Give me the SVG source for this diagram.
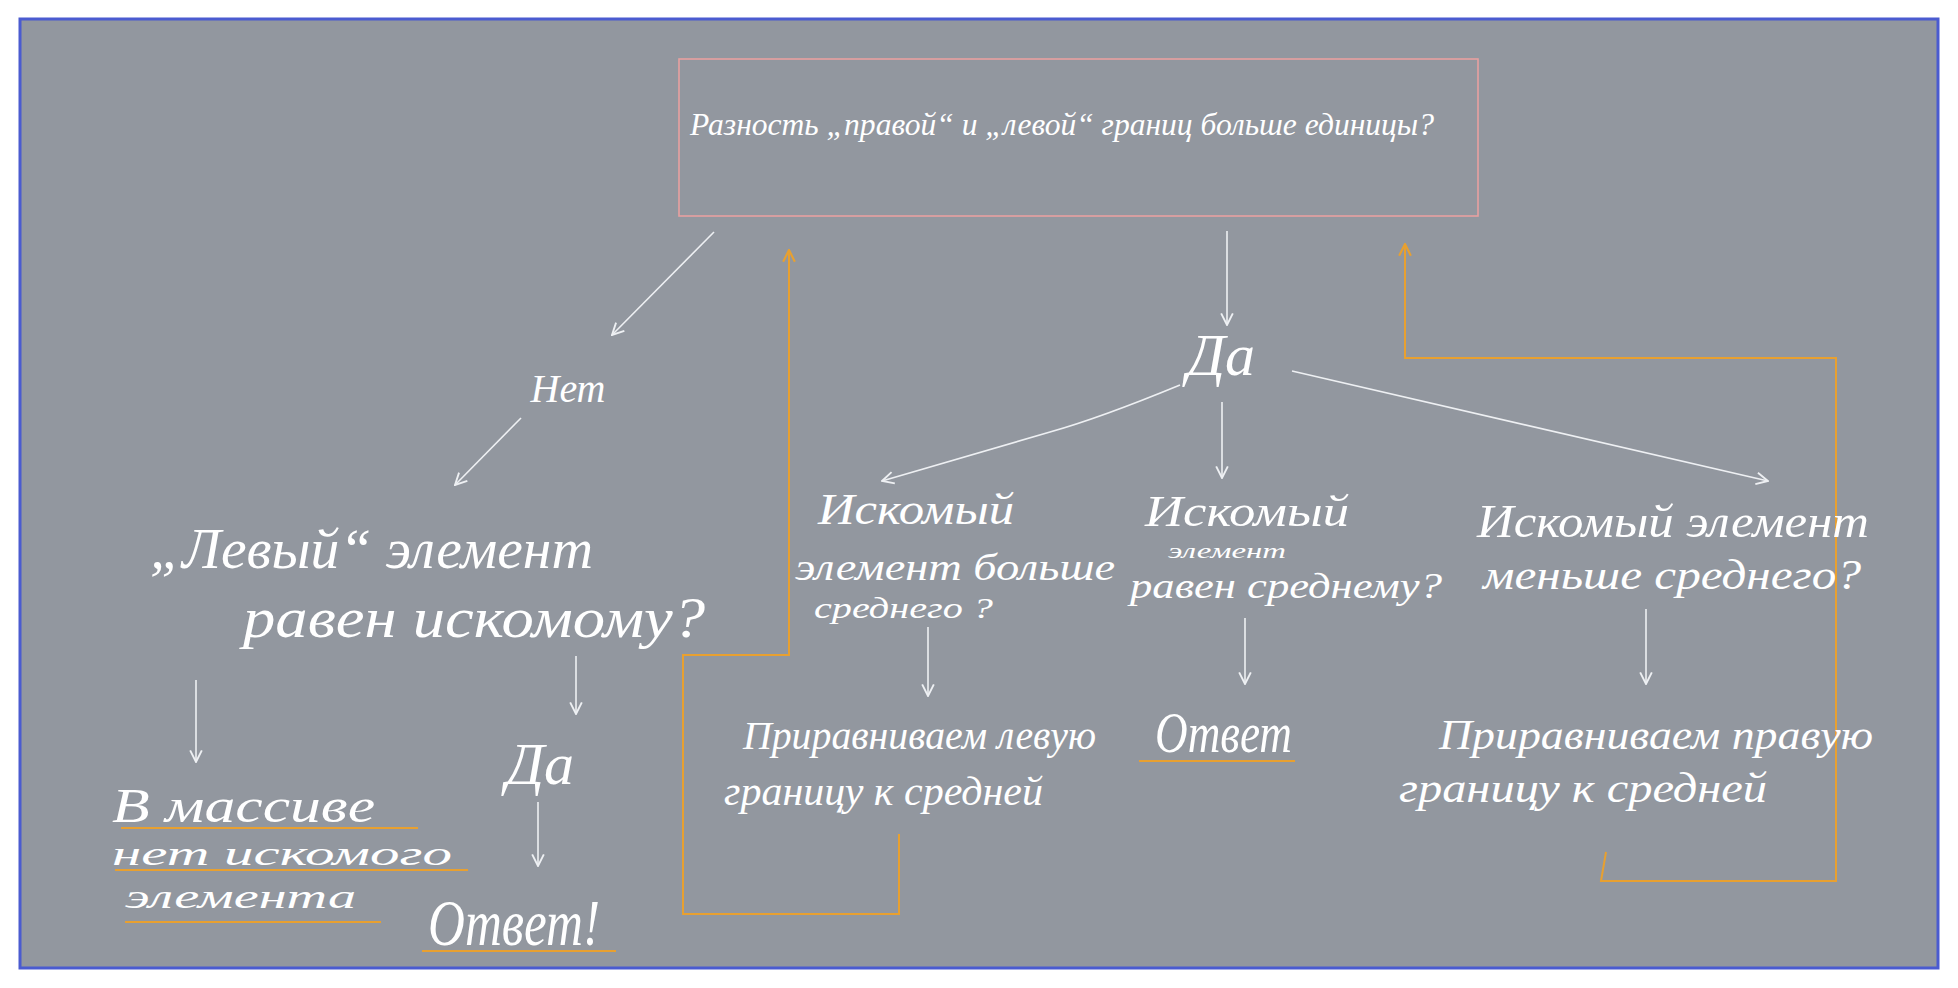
<svg xmlns="http://www.w3.org/2000/svg" width="1958" height="988" viewBox="0 0 1958 988">
<defs>
<style>
.t{font-family:"Liberation Serif","DejaVu Serif",serif;font-style:italic;fill:#ffffff;}
.c{fill:none;stroke:#eef0f3;stroke-width:1.6;}
.o{fill:none;stroke:#e8a030;stroke-width:2;}
.u{stroke:#e8a030;stroke-width:2.2;}
</style>
<marker id="aw" viewBox="0 0 12 12" refX="11" refY="6" markerWidth="14" markerHeight="14" markerUnits="userSpaceOnUse" orient="auto">
<path d="M1,1 L11,6 L1,11" fill="none" stroke="#eef0f3" stroke-width="1.6"/>
</marker>
<marker id="ao" viewBox="0 0 12 12" refX="11" refY="6" markerWidth="14" markerHeight="14" markerUnits="userSpaceOnUse" orient="auto">
<path d="M1,1 L11,6 L1,11" fill="none" stroke="#e8a030" stroke-width="1.8"/>
</marker>
</defs>
<rect x="0" y="0" width="1958" height="988" fill="#ffffff"/>
<rect id="frame" x="20" y="19" width="1918" height="949" fill="#92979f" stroke="#4a5bd0" stroke-width="3"/>

<g id="connectors">
<path class="c" d="M714,232 L612,335" marker-end="url(#aw)" stroke-width="2"/>
<path class="c" d="M521,418 L455,485" marker-end="url(#aw)" stroke-width="2.2"/>
<path class="c" d="M196,680 L196,762" marker-end="url(#aw)" stroke-width="2"/>
<path class="c" d="M576,656 L576,714" marker-end="url(#aw)"/>
<path class="c" d="M538,802 L538,866" marker-end="url(#aw)"/>
<path class="c" d="M1227,231 L1227,325" marker-end="url(#aw)"/>
<path class="c" d="M1180,385 Q1100,418 1050,432 L882,481" marker-end="url(#aw)"/>
<path class="c" d="M1222,402 L1222,478" marker-end="url(#aw)"/>
<path class="c" d="M1292,371 L1768,481" marker-end="url(#aw)"/>
<path class="c" d="M928,627 L928,696" marker-end="url(#aw)"/>
<path class="c" d="M1245,618 L1245,684" marker-end="url(#aw)"/>
<path class="c" d="M1646,609 L1646,684" marker-end="url(#aw)"/>
<path class="o" d="M899,834 L899,914 L683,914 L683,655 L789,655 L789,250" marker-end="url(#ao)"/>
<path class="o" d="M1606,852 L1601,881 L1836,881 L1836,358 L1405,358 L1405,244" marker-end="url(#ao)"/>
</g>

<g id="n-question">
<rect x="679" y="59" width="799" height="157" fill="none" stroke="#e8a0a0" stroke-width="1.6"/>
<text class="t" x="690" y="135" font-size="32" textLength="744" lengthAdjust="spacingAndGlyphs">Разность „правой“ и „левой“ границ больше единицы?</text>
</g>

<g id="n-net">
<text class="t" x="568" y="402" font-size="40" text-anchor="middle">Нет</text>
</g>

<g id="n-left-eq">
<text class="t" x="150" y="568" font-size="56" textLength="443" lengthAdjust="spacingAndGlyphs">„Левый“ элемент</text>
<text class="t" x="243" y="637" font-size="56" textLength="462" lengthAdjust="spacingAndGlyphs">равен искомому?</text>
</g>

<g id="n-no-elem">
<text class="t" x="112" y="822" font-size="48" textLength="263" lengthAdjust="spacingAndGlyphs">В массиве</text>
<line class="u" x1="121" y1="828" x2="418" y2="828"/>
<text class="t" x="112" y="865" font-size="34" textLength="340" lengthAdjust="spacingAndGlyphs">нет искомого</text>
<line class="u" x1="115" y1="870" x2="468" y2="870"/>
<text class="t" x="125" y="908" font-size="34" textLength="231" lengthAdjust="spacingAndGlyphs">элемента</text>
<line class="u" x1="125" y1="922" x2="381" y2="922"/>
</g>

<g id="n-da-left">
<text class="t" x="540" y="784" font-size="60" text-anchor="middle">Да</text>
</g>

<g id="n-answer-left">
<text class="t" x="428" y="945" font-size="66" textLength="172" lengthAdjust="spacingAndGlyphs">Ответ!</text>
<line class="u" x1="422" y1="951" x2="616" y2="951"/>
</g>

<g id="n-da-right">
<text class="t" x="1221" y="375" font-size="60" text-anchor="middle">Да</text>
</g>

<g id="n-greater">
<text class="t" x="818" y="524" font-size="44" textLength="196" lengthAdjust="spacingAndGlyphs">Искомый</text>
<text class="t" x="795" y="580" font-size="38" textLength="320" lengthAdjust="spacingAndGlyphs">элемент больше</text>
<text class="t" x="814" y="618" font-size="30" textLength="179" lengthAdjust="spacingAndGlyphs">среднего ?</text>
</g>

<g id="n-equal">
<text class="t" x="1145" y="526" font-size="44" textLength="204" lengthAdjust="spacingAndGlyphs">Искомый</text>
<text class="t" x="1168" y="558" font-size="22" textLength="118" lengthAdjust="spacingAndGlyphs">элемент</text>
<text class="t" x="1130" y="598" font-size="36" textLength="312" lengthAdjust="spacingAndGlyphs">равен среднему?</text>
</g>

<g id="n-less">
<text class="t" x="1477" y="537" font-size="46" textLength="392" lengthAdjust="spacingAndGlyphs">Искомый элемент</text>
<text class="t" x="1483" y="589" font-size="42" textLength="378" lengthAdjust="spacingAndGlyphs">меньше среднего?</text>
</g>

<g id="n-set-left">
<text class="t" x="743" y="749" font-size="40" textLength="353" lengthAdjust="spacingAndGlyphs">Приравниваем левую</text>
<text class="t" x="724" y="805" font-size="40" textLength="319" lengthAdjust="spacingAndGlyphs">границу к средней</text>
</g>

<g id="n-answer-mid">
<text class="t" x="1155" y="752" font-size="58" textLength="137" lengthAdjust="spacingAndGlyphs">Ответ</text>
<line class="u" x1="1139" y1="761" x2="1295" y2="761"/>
</g>

<g id="n-set-right">
<text class="t" x="1439" y="749" font-size="42" textLength="434" lengthAdjust="spacingAndGlyphs">Приравниваем правую</text>
<text class="t" x="1399" y="802" font-size="42" textLength="368" lengthAdjust="spacingAndGlyphs">границу к средней</text>
</g>
</svg>
